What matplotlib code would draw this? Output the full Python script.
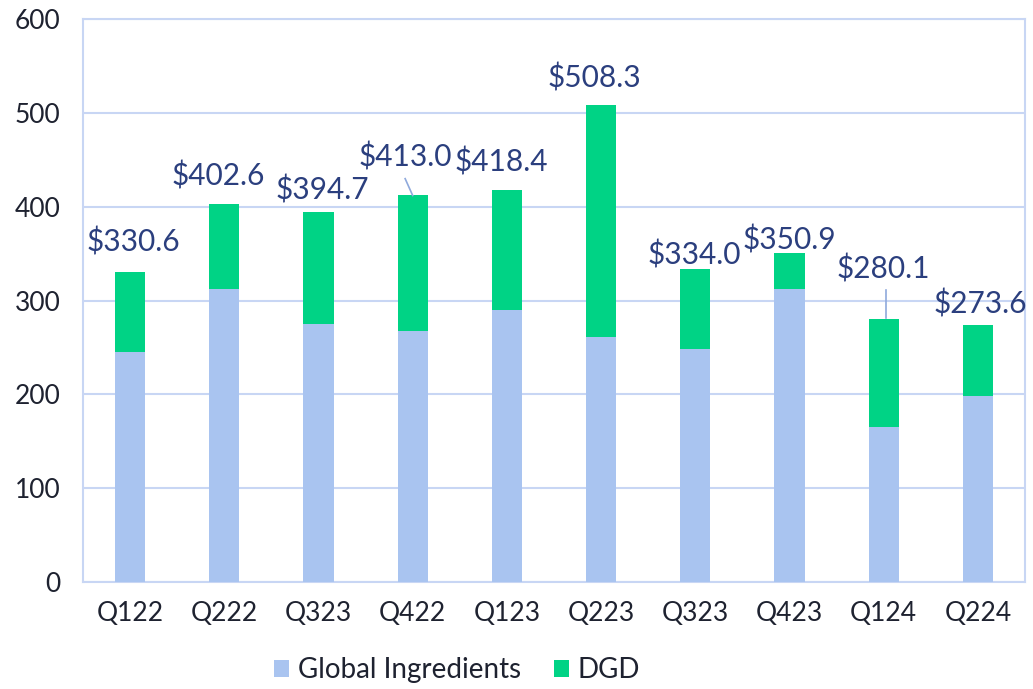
import matplotlib.pyplot as plt
import numpy as np

quarters = ['Q122', 'Q222', 'Q323', 'Q422', 'Q123', 'Q223', 'Q323', 'Q423', 'Q124', 'Q224']
global_ingredients = [245, 312, 275, 267, 290, 261, 248, 312, 165, 198]
totals = [330.6, 402.6, 394.7, 413.0, 418.4, 508.3, 334.0, 350.9, 280.1, 273.6]
dgd = [t - g for t, g in zip(totals, global_ingredients)]

# where each total label sits (x offset from bar, y in data units)
label_dx = [0.03, -0.06, 0.04, -0.08, -0.06, -0.07, -0.01, 0.0, 0.0, 0.02]
label_y = [362, 433, 418, 453, 448, 537, 349, 365, 334, 296]

blue = '#A9C4F0'
green = '#00D385'
grid_col = '#C8D6F4'
label_col = '#2B3F7E'
text_col = '#1E2230'

plt.rcParams['font.family'] = ['Lato', 'DejaVu Sans']

fig = plt.figure(figsize=(10.33, 6.89), dpi=100)
ax = fig.add_axes([0.0803, 0.1557, 0.912, 0.8163])

x = np.arange(len(quarters))
w = 0.32
ax.bar(x, global_ingredients, w, color=blue, label='Global Ingredients', zorder=3)
ax.bar(x, dgd, w, bottom=global_ingredients, color=green, label='DGD', zorder=3)

for i, t in enumerate(totals):
    ax.text(x[i] + label_dx[i], label_y[i], f'${t:.1f}', ha='center', va='center',
            fontsize=21.5, color=label_col, zorder=4)

# leader lines for moved labels
ax.plot([2.92, 3.0], [430, 412], color='#8FA9DC', lw=1.2, zorder=4)
ax.plot([8.02, 8.02], [311, 281], color='#8FA9DC', lw=1.2, zorder=4)

ax.set_xlim(-0.5, len(quarters) - 0.5)
ax.set_ylim(0, 600)
ax.set_yticks(np.arange(0, 601, 100))
ax.set_xticks(x)
ax.set_xticklabels(quarters)
ax.yaxis.grid(True, color=grid_col, lw=1.5, zorder=0)
ax.set_axisbelow(True)
for s in ax.spines.values():
    s.set_color(grid_col)
    s.set_linewidth(1.5)
ax.tick_params(axis='both', length=0, labelsize=19, colors=text_col)
ax.tick_params(axis='x', pad=14)
ax.tick_params(axis='y', pad=16)

fig.legend(loc='center', bbox_to_anchor=(457 / 1033, 1 - 670 / 689), ncol=2,
           frameon=False, fontsize=20, handlelength=0.55, handleheight=0.55,
           handletextpad=0.3, columnspacing=1.2, labelcolor=text_col)

fig.savefig('out.png', dpi=100)
